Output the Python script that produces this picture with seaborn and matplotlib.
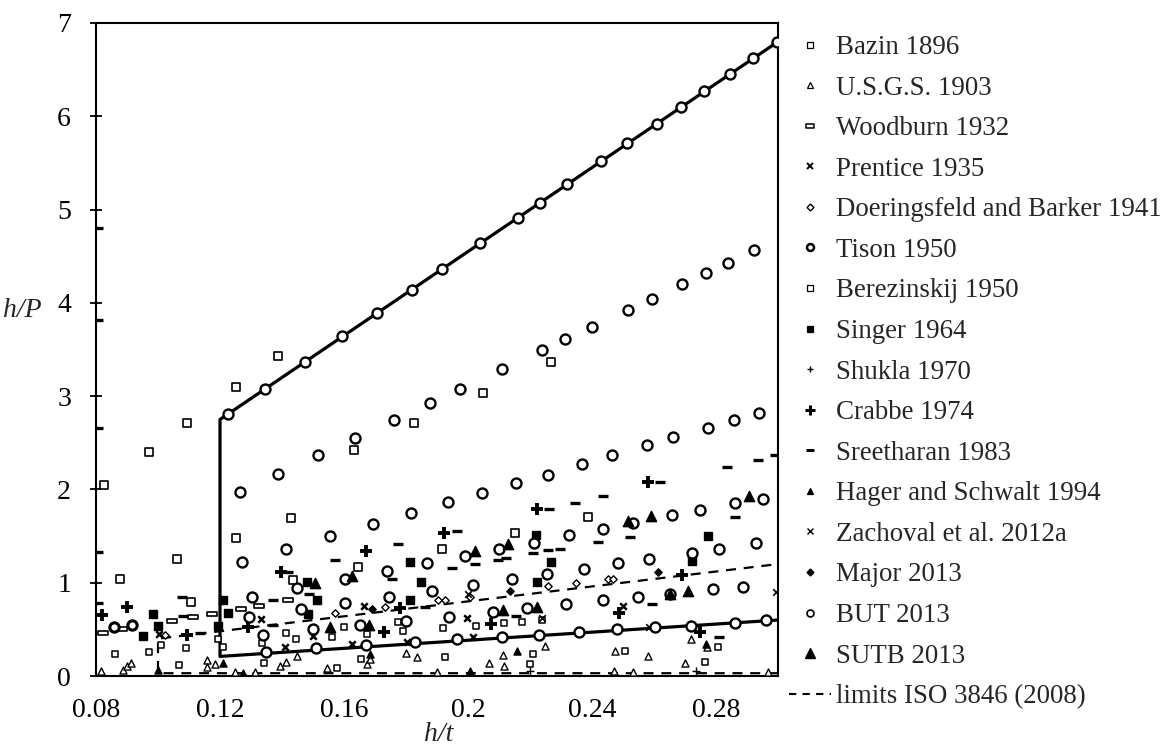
import numpy as np
import pandas as pd
import matplotlib
matplotlib.use("Agg")
import matplotlib.pyplot as plt
import seaborn as sns
from matplotlib.lines import Line2D
from matplotlib.path import Path

# ---------------- data ----------------
x_ticks = [0.08, 0.12, 0.16, 0.20, 0.24, 0.28]
x_tick_labels = ["0.08", "0.12", "0.16", "0.2", "0.24", "0.28"]
y_ticks = [0, 1, 2, 3, 4, 5, 6, 7]

# solid envelope line
env_x = [0.30, 0.12, 0.12, 0.30]
env_y = [0.60, 0.21, 2.75, 6.80]
# dashed ISO 3846 limits
iso_x = [0.30, 0.10, 0.10, 0.30]
iso_y = [0.03, 0.03, 0.40, 1.20]

bazin_x = [0.0861, 0.0971, 0.1010, 0.1090, 0.1068, 0.1194, 0.1210, 0.1600, 0.1413, 0.1445,
           0.1561, 0.1342, 0.1335, 0.1577, 0.1774, 0.1790, 0.1674, 0.1919, 0.2026, 0.1655,
           0.1926, 0.2116, 0.2174, 0.2239, 0.2210, 0.2200, 0.2506, 0.2806, 0.2765]
bazin_y = [0.24, 0.26, 0.33, 0.30, 0.12, 0.40, 0.31, 0.53, 0.46, 0.40,
           0.42, 0.14, 0.35, 0.09, 0.58, 0.48, 0.45, 0.51, 0.54, 0.18,
           0.20, 0.57, 0.58, 0.60, 0.24, 0.13, 0.27, 0.31, 0.15]

usgs_x = [0.0816, 0.0887, 0.0900, 0.0913, 0.1158, 0.1158, 0.1184, 0.1248, 0.1313, 0.1394,
          0.1413, 0.1448, 0.1545, 0.1674, 0.1684, 0.1800, 0.1835, 0.1900, 0.2068, 0.2113,
          0.2116, 0.2248, 0.2471, 0.2474, 0.2532, 0.2581, 0.2700, 0.2719, 0.2771, 0.2968]
usgs_y = [0.05, 0.06, 0.11, 0.14, 0.17, 0.10, 0.13, 0.04, 0.04, 0.11,
          0.15, 0.21, 0.09, 0.13, 0.18, 0.25, 0.20, 0.04, 0.14, 0.22,
          0.11, 0.32, 0.05, 0.27, 0.04, 0.21, 0.14, 0.40, 0.31, 0.04]

woodburn_x = [0.0823, 0.0884, 0.1045, 0.1113, 0.1174, 0.1268, 0.1326, 0.1419]
woodburn_y = [0.46, 0.50, 0.59, 0.63, 0.66, 0.72, 0.75, 0.81]

prentice_x = [0.1003, 0.1332, 0.1410, 0.1500, 0.1626, 0.1665, 0.1997, 0.1803, 0.2016, 0.2500]
prentice_y = [0.45, 0.61, 0.31, 0.43, 0.34, 0.75, 0.62, 0.36, 0.42, 0.75]

doering_x = [0.1023, 0.1571, 0.1732, 0.1903, 0.1926, 0.2006, 0.2258, 0.2348, 0.2452, 0.2468]
doering_y = [0.44, 0.67, 0.74, 0.81, 0.81, 0.85, 0.96, 1.00, 1.04, 1.04]

tison_x = [0.0859, 0.0916]
tison_y = [0.52, 0.55]

berez_x = [0.0826, 0.0971, 0.1094, 0.1252, 0.1387, 0.0877, 0.1061, 0.1252, 0.1429, 0.1632,
           0.1645, 0.1435, 0.1106, 0.1826, 0.2048, 0.2268, 0.2387, 0.2152, 0.1916]
berez_y = [2.05, 2.40, 2.71, 3.10, 3.43, 1.04, 1.25, 1.48, 1.69, 2.42,
           1.17, 1.03, 0.79, 2.71, 3.03, 3.37, 1.70, 1.53, 1.36]

singer_x = [0.0984, 0.1000, 0.0952, 0.1210, 0.1194, 0.1226, 0.1481, 0.1513, 0.1484, 0.1813,
            0.1848, 0.1813, 0.2219, 0.2268, 0.2223, 0.2774, 0.2723]
singer_y = [0.66, 0.54, 0.43, 0.81, 0.54, 0.67, 1.01, 0.82, 0.66, 1.22,
            1.01, 0.82, 1.51, 1.22, 1.01, 1.50, 1.23]

shukla_x = [0.2200, 0.2735]
shukla_y = [0.05, 0.05]

crabbe_x = [0.0819, 0.0900, 0.1094, 0.1397, 0.1290, 0.1671, 0.1781, 0.1729, 0.1923, 0.2223,
            0.2074, 0.2487, 0.2690, 0.2748, 0.2581]
crabbe_y = [0.65, 0.74, 0.44, 1.12, 0.53, 1.34, 0.73, 0.47, 1.53, 1.79,
            0.56, 0.67, 1.08, 0.47, 2.08]

sreet_x = [0.1077, 0.1080, 0.1135, 0.1371, 0.1487, 0.1571, 0.1371, 0.1774, 0.1965, 0.1948,
           0.1755, 0.1861, 0.2023, 0.2345, 0.2262, 0.2419, 0.2210, 0.2258, 0.2297, 0.2097,
           0.2123, 0.2155, 0.2861, 0.2523, 0.2594, 0.2810, 0.2835, 0.2935, 0.2990, 0.2435,
           0.1420, 0.2620, 0.0805, 0.0805, 0.0805, 0.0805, 0.0805]
sreet_y = [0.85, 0.64, 0.46, 0.82, 0.88, 1.24, 0.55, 1.41, 1.55, 1.16,
           1.04, 0.74, 1.20, 1.85, 1.79, 1.44, 1.32, 1.35, 1.36, 1.24,
           1.26, 0.64, 1.70, 1.49, 0.77, 0.42, 2.24, 2.32, 2.37, 1.93,
           1.12, 2.08, 4.80, 3.82, 2.66, 1.33, 0.78]

hager_x = [0.1000, 0.1210, 0.1274, 0.1684, 0.2006, 0.2158, 0.2768]
hager_y = [0.06, 0.14, 0.03, 0.24, 0.05, 0.27, 0.34]

zach_x = [0.2000, 0.2584, 0.2995, 0.2240]
zach_y = [0.88, 0.53, 0.90, 0.62]

major_x = [0.1477, 0.2135, 0.2613, 0.1690]
major_y = [0.69, 0.91, 1.11, 0.72]

but_x = [0.1226, 0.1345, 0.1474, 0.1594, 0.1706, 0.1819, 0.1916, 0.2039, 0.2161, 0.2232,
         0.2319, 0.2429, 0.2513, 0.2610, 0.2687, 0.2761, 0.2845, 0.2919, 0.2997,
         0.1265, 0.1387, 0.1516, 0.1635, 0.1761, 0.1878, 0.1974, 0.2110, 0.2239, 0.2313,
         0.2400, 0.2516, 0.2594, 0.2690, 0.2768, 0.2839, 0.2923,
         0.1271, 0.1413, 0.1555, 0.1694, 0.1816, 0.1935, 0.2045, 0.2155, 0.2258, 0.2368,
         0.2465, 0.2577, 0.2661, 0.2774, 0.2858, 0.2939,
         0.1303, 0.1448, 0.1603, 0.1739, 0.1868, 0.1990, 0.2100, 0.2213, 0.2326, 0.2435,
         0.2532, 0.2658, 0.2748, 0.2861, 0.2950,
         0.1294, 0.1461, 0.1603, 0.1745, 0.1884, 0.2016, 0.2142, 0.2255, 0.2374, 0.2484,
         0.2584, 0.2723, 0.2810, 0.2929,
         0.1339, 0.1500, 0.1652, 0.1800, 0.1939, 0.2081, 0.2190, 0.2316, 0.2435, 0.2548,
         0.2652, 0.2790, 0.2887,
         0.1348, 0.1510, 0.1671, 0.1829, 0.1965, 0.2110, 0.2229, 0.2358, 0.2481, 0.2603,
         0.2719, 0.2861, 0.2961]
but_y = [2.81, 3.08, 3.37, 3.64, 3.89, 4.14, 4.36, 4.64, 4.91, 5.07,
         5.27, 5.52, 5.71, 5.92, 6.10, 6.27, 6.45, 6.62, 6.80,
         1.97, 2.17, 2.37, 2.55, 2.74, 2.93, 3.08, 3.29, 3.49, 3.61,
         3.74, 3.92, 4.04, 4.20, 4.32, 4.43, 4.57,
         1.22, 1.36, 1.50, 1.63, 1.75, 1.86, 1.96, 2.07, 2.16, 2.27,
         2.37, 2.48, 2.56, 2.66, 2.74, 2.82,
         0.85, 0.94, 1.04, 1.13, 1.21, 1.29, 1.36, 1.43, 1.51, 1.58,
         1.64, 1.73, 1.78, 1.85, 1.90,
         0.63, 0.72, 0.78, 0.85, 0.91, 0.98, 1.04, 1.09, 1.15, 1.21,
         1.25, 1.32, 1.36, 1.43,
         0.44, 0.50, 0.55, 0.59, 0.63, 0.69, 0.73, 0.77, 0.81, 0.85,
         0.88, 0.93, 0.95,
         0.26, 0.30, 0.33, 0.36, 0.40, 0.42, 0.44, 0.47, 0.50, 0.52,
         0.54, 0.57, 0.60]

sutb_x = [0.1506, 0.1626, 0.1555, 0.1681, 0.2023, 0.2129, 0.2113, 0.2223, 0.2516, 0.2590,
          0.2652, 0.2710, 0.2906]
sutb_y = [1.00, 1.07, 0.52, 0.55, 1.34, 1.42, 0.71, 0.74, 1.66, 1.72,
          0.88, 0.91, 1.93]

# ---------------- styling ----------------
sns.set_theme(style="white")
plt.rcParams['font.family'] = ['Liberation Serif', 'DejaVu Serif']
FS = 19.4
TFS = 20

fig = plt.figure(figsize=(11.69, 7.51), dpi=100)
ax = fig.add_axes([96/1169, 1-676/751, (778-96)/1169, (676-23)/751])

rect = Path([(-1, -0.5), (1, -0.5), (1, 0.5), (-1, 0.5), (-1, -0.5)],
            [Path.MOVETO, Path.LINETO, Path.LINETO, Path.LINETO, Path.CLOSEPOLY])

# lines
sns.lineplot(x=env_x, y=env_y, sort=False, estimator=None, color='black',
             linewidth=2.3, ax=ax, zorder=2, legend=False)
sns.lineplot(x=iso_x, y=iso_y, sort=False, estimator=None, color='black',
             linewidth=1.6, ax=ax, zorder=2, legend=False, dashes=False)
ax.lines[-1].set_linestyle((0, (4.5, 3.5)))


def pts(xs, ys, marker, s, fc, lw=1.2, z=3):
    sns.scatterplot(x=xs, y=ys, marker=marker, s=s, color=fc, edgecolor='black',
                    linewidth=lw, zorder=z, ax=ax, legend=False)


pts(bazin_x, bazin_y, 's', 20, 'white', 1.1)
pts(berez_x, berez_y, 's', 26, 'white', 1.2)
pts(usgs_x, usgs_y, '^', 26, 'white', 1.0)
pts(woodburn_x, woodburn_y, rect, 50, 'white', 1.2)
pts(prentice_x, prentice_y, 'x', 22, 'black', 1.8)
pts(doering_x, doering_y, 'D', 14, 'white', 1.0)
pts(tison_x, tison_y, 'o', 45, 'white', 2.2)
pts(singer_x, singer_y, 's', 32, 'black', 1.0)
pts(shukla_x, shukla_y, '+', 30, 'black', 1.0)
pts(crabbe_x, crabbe_y, '+', 70, 'black', 2.8)
pts(sreet_x, sreet_y, '_', 55, 'black', 2.4)
pts(hager_x, hager_y, '^', 26, 'black', 1.0)
pts(zach_x, zach_y, 'x', 22, 'black', 1.2)
pts(major_x, major_y, 'D', 14, 'black', 1.0)
pts(but_x, but_y, 'o', 52, 'white', 1.7)
pts(sutb_x, sutb_y, '^', 55, 'black', 1.0, z=4)

# axes
ax.set_xlim(0.08, 0.30)
ax.set_ylim(0, 7)
ax.set_xticks(x_ticks)
ax.set_xticklabels(x_tick_labels)
ax.set_yticks(y_ticks)
ax.tick_params(axis='y', direction='inout', length=8, width=1.3, pad=14,
               labelsize=TFS, left=True, colors='black')
ax.tick_params(axis='x', direction='in', length=0, pad=16, labelsize=TFS,
               bottom=True, colors='black')
for sp in ax.spines.values():
    sp.set_visible(True)
    sp.set_color('black')
    sp.set_linewidth(1.5)
ax.grid(False)

ax.set_ylabel('h/P', rotation=0, fontsize=TFS, fontstyle='italic', ha='center', va='center')
ax.yaxis.set_label_coords(-0.108, 0.56)
ax.set_xlabel('h/t', fontsize=TFS, fontstyle='italic', va='center')
ax.xaxis.set_label_coords(0.502, -0.09)

# legend
def H(marker, ms, mfc, mew=1.0, **kw):
    return Line2D([], [], marker=marker, markersize=ms, markerfacecolor=mfc,
                  markeredgecolor='black', markeredgewidth=mew, color='black',
                  linestyle='none', **kw)

handles = [
    H('s', 4, 'white', 0.9),
    H('^', 4.5, 'white', 0.9),
    H(rect, 6, 'white', 1.1),
    H('x', 4, 'black', 1.4),
    H('D', 3.5, 'white', 1.0),
    H('o', 5, 'white', 1.8),
    H('s', 4.5, 'white', 0.9),
    H('s', 5, 'black', 0.9),
    H('+', 5, 'black', 1.0),
    H('+', 6.5, 'black', 2.2),
    H('_', 6, 'black', 2.2),
    H('^', 5, 'black', 0.9),
    H('x', 4.5, 'black', 1.0),
    H('D', 3.5, 'black', 1.0),
    H('o', 5, 'white', 1.2),
    H('^', 7, 'black', 1.0),
    Line2D([], [], color='black', linewidth=1.5, linestyle=(0, (3.5, 3.0))),
]
labels = ["Bazin 1896", "U.S.G.S. 1903", "Woodburn 1932", "Prentice 1935",
          "Doeringsfeld and Barker 1941", "Tison 1950", "Berezinskij 1950",
          "Singer 1964", "Shukla 1970", "Crabbe 1974", "Sreetharan 1983",
          "Hager and Schwalt 1994", "Zachoval et al. 2012a", "Major 2013",
          "BUT 2013", "SUTB 2013", "limits ISO 3846 (2008)"]

fig.legend(handles, labels, loc='upper left', bbox_to_anchor=(789/1169, 1-35/751),
           frameon=False, fontsize=FS, handlelength=1.56, handletextpad=0.2,
           labelspacing=0.578, borderpad=0, borderaxespad=0)

fig.savefig('out.png', dpi=100)
